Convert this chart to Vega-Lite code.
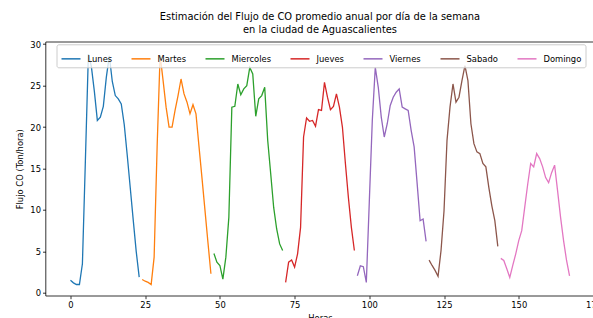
{
  "$schema": "https://vega.github.io/schema/vega-lite/v6.json",
  "width": 549,
  "height": 254,
  "autosize": {"type": "none"},
  "padding": {"left": 45.5, "top": 41.7, "right": 0, "bottom": 22.3},
  "background": "white",
  "title": {
    "text": ["Estimación del Flujo de CO promedio anual por día de la semana", "en la ciudad de Aguascalientes"],
    "fontSize": 9.9, "font": "DejaVu Sans", "fontWeight": "normal", "color": "black",
    "anchor": "middle", "frame": "group", "offset": 5, "lineHeight": 13
  },
  "config": {
    "view": {"stroke": "black", "strokeWidth": 0.8},
    "axis": {
      "domain": false, "grid": false, "tickColor": "black", "tickSize": 3, "tickWidth": 0.8,
      "labelFontSize": 8.4, "labelFont": "DejaVu Sans", "labelColor": "black", "labelPadding": 2,
      "titleFontSize": 8.4, "titleFont": "DejaVu Sans", "titleFontWeight": "normal", "titleColor": "black"
    }
  },
  "data": {"values": [
    {"h":0,"v":1.5,"d":"Lunes"},{"h":1,"v":1.2,"d":"Lunes"},{"h":2,"v":1.0,"d":"Lunes"},{"h":3,"v":1.0,"d":"Lunes"},
    {"h":4,"v":3.5,"d":"Lunes"},{"h":5,"v":16.0,"d":"Lunes"},{"h":6,"v":28.8,"d":"Lunes"},{"h":7,"v":27.3,"d":"Lunes"},
    {"h":8,"v":24.3,"d":"Lunes"},{"h":9,"v":20.8,"d":"Lunes"},{"h":10,"v":21.2,"d":"Lunes"},{"h":11,"v":22.5,"d":"Lunes"},
    {"h":12,"v":26.0,"d":"Lunes"},{"h":13,"v":28.6,"d":"Lunes"},{"h":14,"v":25.5,"d":"Lunes"},{"h":15,"v":23.8,"d":"Lunes"},
    {"h":16,"v":23.4,"d":"Lunes"},{"h":17,"v":22.8,"d":"Lunes"},{"h":18,"v":20.3,"d":"Lunes"},{"h":19,"v":16.6,"d":"Lunes"},
    {"h":20,"v":12.7,"d":"Lunes"},{"h":21,"v":8.8,"d":"Lunes"},{"h":22,"v":5.0,"d":"Lunes"},{"h":23,"v":1.9,"d":"Lunes"},
    {"h":24,"v":1.6,"d":"Martes"},{"h":25,"v":1.4,"d":"Martes"},{"h":26,"v":1.25,"d":"Martes"},{"h":27,"v":1.0,"d":"Martes"},
    {"h":28,"v":4.3,"d":"Martes"},{"h":29,"v":17.6,"d":"Martes"},{"h":30,"v":28.7,"d":"Martes"},{"h":31,"v":25.6,"d":"Martes"},
    {"h":32,"v":22.4,"d":"Martes"},{"h":33,"v":20.0,"d":"Martes"},{"h":34,"v":20.0,"d":"Martes"},{"h":35,"v":22.0,"d":"Martes"},
    {"h":36,"v":23.8,"d":"Martes"},{"h":37,"v":25.8,"d":"Martes"},{"h":38,"v":24.0,"d":"Martes"},{"h":39,"v":23.0,"d":"Martes"},
    {"h":40,"v":21.6,"d":"Martes"},{"h":41,"v":22.7,"d":"Martes"},{"h":42,"v":21.6,"d":"Martes"},{"h":43,"v":17.7,"d":"Martes"},
    {"h":44,"v":13.9,"d":"Martes"},{"h":45,"v":10.0,"d":"Martes"},{"h":46,"v":6.1,"d":"Martes"},{"h":47,"v":2.3,"d":"Martes"},
    {"h":48,"v":4.75,"d":"Miercoles"},{"h":49,"v":3.7,"d":"Miercoles"},{"h":50,"v":3.3,"d":"Miercoles"},{"h":51,"v":1.65,"d":"Miercoles"},
    {"h":52,"v":4.3,"d":"Miercoles"},{"h":53,"v":9.1,"d":"Miercoles"},{"h":54,"v":22.4,"d":"Miercoles"},{"h":55,"v":22.5,"d":"Miercoles"},
    {"h":56,"v":25.2,"d":"Miercoles"},{"h":57,"v":23.9,"d":"Miercoles"},{"h":58,"v":24.6,"d":"Miercoles"},{"h":59,"v":25.0,"d":"Miercoles"},
    {"h":60,"v":27.2,"d":"Miercoles"},{"h":61,"v":26.4,"d":"Miercoles"},{"h":62,"v":21.3,"d":"Miercoles"},{"h":63,"v":23.4,"d":"Miercoles"},
    {"h":64,"v":23.8,"d":"Miercoles"},{"h":65,"v":24.8,"d":"Miercoles"},{"h":66,"v":18.4,"d":"Miercoles"},{"h":67,"v":14.4,"d":"Miercoles"},
    {"h":68,"v":10.3,"d":"Miercoles"},{"h":69,"v":7.7,"d":"Miercoles"},{"h":70,"v":5.9,"d":"Miercoles"},{"h":71,"v":5.1,"d":"Miercoles"},
    {"h":72,"v":1.25,"d":"Jueves"},{"h":73,"v":3.7,"d":"Jueves"},{"h":74,"v":3.95,"d":"Jueves"},{"h":75,"v":3.1,"d":"Jueves"},
    {"h":76,"v":4.7,"d":"Jueves"},{"h":77,"v":7.9,"d":"Jueves"},{"h":78,"v":18.8,"d":"Jueves"},{"h":79,"v":21.1,"d":"Jueves"},
    {"h":80,"v":20.7,"d":"Jueves"},{"h":81,"v":20.8,"d":"Jueves"},{"h":82,"v":20.1,"d":"Jueves"},{"h":83,"v":22.1,"d":"Jueves"},
    {"h":84,"v":22.0,"d":"Jueves"},{"h":85,"v":25.4,"d":"Jueves"},{"h":86,"v":23.6,"d":"Jueves"},{"h":87,"v":22.1,"d":"Jueves"},
    {"h":88,"v":22.5,"d":"Jueves"},{"h":89,"v":24.0,"d":"Jueves"},{"h":90,"v":22.4,"d":"Jueves"},{"h":91,"v":20.0,"d":"Jueves"},
    {"h":92,"v":15.6,"d":"Jueves"},{"h":93,"v":11.5,"d":"Jueves"},{"h":94,"v":7.9,"d":"Jueves"},{"h":95,"v":5.1,"d":"Jueves"},
    {"h":96,"v":2.05,"d":"Viernes"},{"h":97,"v":3.25,"d":"Viernes"},{"h":98,"v":3.15,"d":"Viernes"},{"h":99,"v":1.25,"d":"Viernes"},
    {"h":100,"v":11.0,"d":"Viernes"},{"h":101,"v":20.8,"d":"Viernes"},{"h":102,"v":27.2,"d":"Viernes"},{"h":103,"v":24.8,"d":"Viernes"},
    {"h":104,"v":21.2,"d":"Viernes"},{"h":105,"v":18.8,"d":"Viernes"},{"h":106,"v":20.4,"d":"Viernes"},{"h":107,"v":22.6,"d":"Viernes"},
    {"h":108,"v":23.6,"d":"Viernes"},{"h":109,"v":24.2,"d":"Viernes"},{"h":110,"v":24.6,"d":"Viernes"},{"h":111,"v":22.4,"d":"Viernes"},
    {"h":112,"v":22.2,"d":"Viernes"},{"h":113,"v":22.0,"d":"Viernes"},{"h":114,"v":19.6,"d":"Viernes"},{"h":115,"v":17.6,"d":"Viernes"},
    {"h":116,"v":13.2,"d":"Viernes"},{"h":117,"v":8.7,"d":"Viernes"},{"h":118,"v":8.9,"d":"Viernes"},{"h":119,"v":6.2,"d":"Viernes"},
    {"h":120,"v":3.95,"d":"Sabado"},{"h":121,"v":3.3,"d":"Sabado"},{"h":122,"v":2.7,"d":"Sabado"},{"h":123,"v":2.0,"d":"Sabado"},
    {"h":124,"v":5.1,"d":"Sabado"},{"h":125,"v":9.9,"d":"Sabado"},{"h":126,"v":18.4,"d":"Sabado"},{"h":127,"v":22.4,"d":"Sabado"},
    {"h":128,"v":25.2,"d":"Sabado"},{"h":129,"v":23.0,"d":"Sabado"},{"h":130,"v":23.6,"d":"Sabado"},{"h":131,"v":25.6,"d":"Sabado"},
    {"h":132,"v":27.4,"d":"Sabado"},{"h":133,"v":25.6,"d":"Sabado"},{"h":134,"v":20.4,"d":"Sabado"},{"h":135,"v":18.0,"d":"Sabado"},
    {"h":136,"v":17.0,"d":"Sabado"},{"h":137,"v":16.8,"d":"Sabado"},{"h":138,"v":15.6,"d":"Sabado"},{"h":139,"v":15.2,"d":"Sabado"},
    {"h":140,"v":12.7,"d":"Sabado"},{"h":141,"v":10.5,"d":"Sabado"},{"h":142,"v":8.7,"d":"Sabado"},{"h":143,"v":5.6,"d":"Sabado"},
    {"h":144,"v":4.15,"d":"Domingo"},{"h":145,"v":3.9,"d":"Domingo"},{"h":146,"v":2.9,"d":"Domingo"},{"h":147,"v":1.85,"d":"Domingo"},
    {"h":148,"v":3.3,"d":"Domingo"},{"h":149,"v":4.7,"d":"Domingo"},{"h":150,"v":6.3,"d":"Domingo"},{"h":151,"v":7.5,"d":"Domingo"},
    {"h":152,"v":10.3,"d":"Domingo"},{"h":153,"v":13.1,"d":"Domingo"},{"h":154,"v":15.6,"d":"Domingo"},{"h":155,"v":15.2,"d":"Domingo"},
    {"h":156,"v":16.8,"d":"Domingo"},{"h":157,"v":16.2,"d":"Domingo"},{"h":158,"v":15.2,"d":"Domingo"},{"h":159,"v":13.9,"d":"Domingo"},
    {"h":160,"v":13.3,"d":"Domingo"},{"h":161,"v":14.5,"d":"Domingo"},{"h":162,"v":15.4,"d":"Domingo"},{"h":163,"v":12.3,"d":"Domingo"},
    {"h":164,"v":9.1,"d":"Domingo"},{"h":165,"v":6.3,"d":"Domingo"},{"h":166,"v":3.9,"d":"Domingo"},{"h":167,"v":2.05,"d":"Domingo"}
  ]},
  "mark": {"type": "line", "strokeWidth": 1.3, "clip": true},
  "encoding": {
    "x": {
      "field": "h", "type": "quantitative",
      "scale": {"domain": [-8.35, 175.35], "nice": false, "zero": false},
      "axis": {"values": [0, 25, 50, 75, 100, 125, 150, 175], "title": "Horas", "titlePadding": 4}
    },
    "y": {
      "field": "v", "type": "quantitative",
      "scale": {"domain": [-0.35, 30.3], "nice": false, "zero": false},
      "axis": {"values": [0, 5, 10, 15, 20, 25, 30], "title": "Flujo CO (Ton/hora)", "titlePadding": 5}
    },
    "color": {
      "field": "d", "type": "nominal",
      "scale": {
        "domain": ["Lunes", "Martes", "Miercoles", "Jueves", "Viernes", "Sabado", "Domingo"],
        "range": ["#1f77b4", "#ff7f0e", "#2ca02c", "#d62728", "#9467bd", "#8c564b", "#e377c2"]
      },
      "legend": {
        "title": null, "orient": "none", "legendX": 11, "legendY": 2.6, "direction": "horizontal",
        "symbolType": "stroke", "symbolSize": 361, "symbolStrokeWidth": 1.5,
        "labelFontSize": 8.4, "labelFont": "DejaVu Sans", "labelColor": "black", "labelOffset": 6,
        "columnPadding": 16, "fillColor": "rgba(255,255,255,0.8)", "strokeColor": "#cccccc",
        "padding": 4, "cornerRadius": 2
      }
    }
  }
}
